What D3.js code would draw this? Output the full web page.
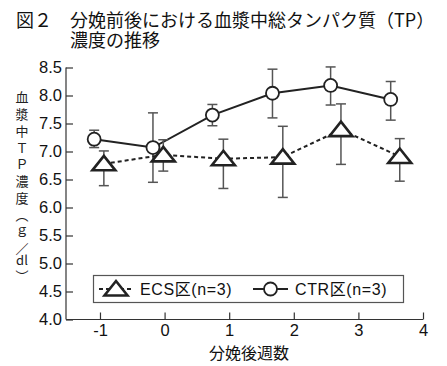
<!DOCTYPE html>
<html><head><meta charset="utf-8">
<script src="https://cdn.jsdelivr.net/npm/d3@7"></script>
<style>
body{margin:0;background:#fff;}
svg{display:block;}
</style></head>
<body><svg id="c" width="447" height="366"></svg>
<script>
// ---- data ----
const titleFig = "図２";
const titleLines = ["分娩前後における血漿中総タンパク質（TP）", "濃度の推移"];
const yTitleParts = ["血漿中ＴＰ濃度（ｇ／", "dl", "）"];
const xTitle = "分娩後週数";
const yTicks = [4.0,4.5,5.0,5.5,6.0,6.5,7.0,7.5,8.0,8.5];
const xTicks = [-1,0,1,2,3,4];
const ctrWeeks = [-1.09,-0.18,0.74,1.67,2.57,3.50];
const ctrMean  = [7.22,7.07,7.65,8.04,8.18,7.93];
const ctrHigh  = [7.38,7.69,7.84,8.47,8.51,8.25];
const ctrLow   = [7.07,6.45,7.46,7.60,7.83,7.56];
const ecsWeeks = [-0.94,-0.02,0.91,1.83,2.73,3.64];
const ecsMean  = [6.78,6.94,6.87,6.90,7.39,6.91];
const ecsHigh  = [7.01,7.21,7.22,7.45,7.85,7.23];
const ecsLow   = [6.39,6.65,6.34,6.18,6.77,6.47];
const legendLabels = ["ECS区(n=3)","CTR区(n=3)"];

const svg = d3.select("#c");
const JP = "'Noto Sans CJK JP','Noto Sans',sans-serif";
const LAT = "'Liberation Sans',Arial,'Noto Sans CJK JP',sans-serif";
const x = d3.scaleLinear().domain([-1.526,4]).range([66,423]);
const y = d3.scaleLinear().domain([4,8.5]).range([319.5,67.5]);

// title (one text block with two lines)
const tt = svg.append("text").attr("font-family",JP).attr("font-weight",400)
  .attr("font-size",18).attr("fill","#111");
tt.append("tspan").attr("x",16).attr("y",27).text(titleFig);
titleLines.forEach((t,i)=>tt.append("tspan").attr("x",70).attr("y",27+20*i).text(t));

// axes
const yAxis = d3.axisLeft(y).tickValues(yTicks).tickFormat(d3.format(".1f")).tickSize(-7).tickPadding(4);
const gy = svg.append("g").attr("transform","translate(66,0)").call(yAxis);
const xAxis = d3.axisBottom(x).tickValues(xTicks).tickFormat(d=>d).tickSize(-7).tickPadding(5);
const gx = svg.append("g").attr("transform","translate(0,319.5)").call(xAxis);
[gy,gx].forEach(g=>{
  g.select(".domain").attr("stroke","#333").attr("stroke-width",1.2);
  g.selectAll(".tick line").attr("stroke","#333").attr("stroke-width",1.2);
  g.selectAll(".tick text").attr("font-family",LAT).attr("font-size",16.5).attr("fill","#111");
});
gy.select(".domain").attr("d","M0,67.5V319.5");
gx.select(".domain").attr("d","M66,0H423");

// y title (vertical writing)
const vStep = 16.8;
svg.append("text").attr("x",22).attr("y",91)
  .style("writing-mode","vertical-rl").style("text-orientation","upright")
  .attr("font-family",JP).attr("font-size",13).attr("letter-spacing",vStep-13)
  .attr("fill","#222").text(yTitleParts[0]);
svg.append("text").attr("x",22).attr("y",91+vStep*10).attr("text-anchor","middle")
  .attr("dominant-baseline","central").attr("font-family",JP).attr("font-size",13)
  .attr("fill","#222").text(yTitleParts[1]);
svg.append("text").attr("x",22).attr("y",91+vStep*10.6)
  .style("writing-mode","vertical-rl").style("text-orientation","upright")
  .attr("font-family",JP).attr("font-size",13).attr("fill","#222").text(yTitleParts[2]);

// x title
svg.append("text").attr("x",249).attr("y",358.5).attr("text-anchor","middle").attr("font-family",JP)
  .attr("font-size",16).attr("fill","#111").text(xTitle);

// series helpers
function errbars(weeks, hi, lo){
  const g = svg.append("g").attr("stroke","#555").attr("stroke-width",1.5);
  weeks.forEach((w,i)=>{
    const cx = x(w);
    g.append("line").attr("x1",cx).attr("x2",cx).attr("y1",y(hi[i])).attr("y2",y(lo[i]));
    g.append("line").attr("x1",cx-5).attr("x2",cx+5).attr("y1",y(hi[i])).attr("y2",y(hi[i]));
    g.append("line").attr("x1",cx-5).attr("x2",cx+5).attr("y1",y(lo[i])).attr("y2",y(lo[i]));
  });
}
const line = d3.line().x(d=>x(d[0])).y(d=>y(d[1]));

// CTR
errbars(ctrWeeks, ctrHigh, ctrLow);
svg.append("path").datum(ctrWeeks.map((w,i)=>[w,ctrMean[i]])).attr("d",line)
  .attr("fill","none").attr("stroke","#222").attr("stroke-width",2);
svg.selectAll(".ctr").data(ctrWeeks).enter().append("circle")
  .attr("cx",(d)=>x(d)).attr("cy",(d,i)=>y(ctrMean[i])).attr("r",6.5)
  .attr("fill","#fff").attr("stroke","#222").attr("stroke-width",1.8);

// ECS
errbars(ecsWeeks, ecsHigh, ecsLow);
svg.append("path").datum(ecsWeeks.map((w,i)=>[w,ecsMean[i]])).attr("d",line)
  .attr("fill","none").attr("stroke","#222").attr("stroke-width",2).attr("stroke-dasharray","4,3");
function triPath(cx,cy){ // triangle 23 wide, 14 tall
  return `M${cx},${cy-8}L${cx+11.5},${cy+6.5}L${cx-11.5},${cy+6.5}Z`;
}
ecsWeeks.forEach((w,i)=>{
  svg.append("path").attr("d",triPath(x(w),y(ecsMean[i])))
    .attr("fill","#fff").attr("stroke","#222").attr("stroke-width",2.6).attr("stroke-linejoin","miter");
});

// legend
svg.append("rect").attr("x",93.5).attr("y",275.5).attr("width",310).attr("height",27)
  .attr("fill","#fff").attr("stroke","#555").attr("stroke-width",1.2);
const ly = 289;
svg.append("line").attr("x1",99).attr("x2",133).attr("y1",ly).attr("y2",ly)
  .attr("stroke","#222").attr("stroke-width",2).attr("stroke-dasharray","4,3");
svg.append("path").attr("d",triPath(116,ly)).attr("fill","#fff").attr("stroke","#222").attr("stroke-width",2.6);
svg.append("text").attr("x",140).attr("y",ly).attr("dominant-baseline","central")
  .attr("font-family",LAT).attr("font-size",16).attr("letter-spacing",0.6).attr("fill","#111").text(legendLabels[0]);
svg.append("line").attr("x1",253).attr("x2",288).attr("y1",ly).attr("y2",ly)
  .attr("stroke","#222").attr("stroke-width",2);
svg.append("circle").attr("cx",270.5).attr("cy",ly).attr("r",6.5).attr("fill","#fff")
  .attr("stroke","#222").attr("stroke-width",1.8);
svg.append("text").attr("x",295).attr("y",ly).attr("dominant-baseline","central")
  .attr("font-family",LAT).attr("font-size",16).attr("letter-spacing",0.6).attr("fill","#111").text(legendLabels[1]);
</script></body></html>
